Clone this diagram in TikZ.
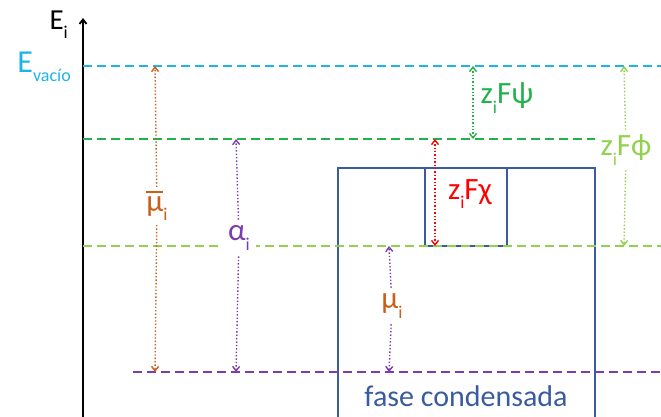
\documentclass[tikz,border=0pt]{standalone}
\usepackage{fontspec}
\setmainfont{Carlito}
\usetikzlibrary{arrows.meta}

\definecolor{cyanvac}{HTML}{1FB4E8}
\definecolor{greenpsi}{HTML}{22B24C}
\definecolor{greenphi}{HTML}{92D050}
\definecolor{purplea}{HTML}{7A3CB0}
\definecolor{orangemu}{HTML}{C8601A}
\definecolor{bluefase}{HTML}{3A5BA0}

\newcommand{\sbi}[1]{\raisebox{-0.3em}{\fontsize{18}{18}\selectfont #1}}
\newcommand{\barmu}{\makebox[0pt][l]{\raisebox{0.6em}{\rule{0.55em}{0.06em}}}μ}

\begin{document}
\begin{tikzpicture}[
  x=1pt,y=-1pt,
  font=\fontsize{31}{34}\selectfont,
  >={Straight Barb[length=4.5pt,width=7pt]},
  level/.style={line width=2.6pt,dash pattern=on 9pt off 5pt},
  gap/.style={line width=1.4pt,dotted},
  tag/.style={inner sep=2pt}
]
\useasboundingbox (0,0) rectangle (661,417);

% axis
\coordinate (ax-bot) at (83,420);
\coordinate (ax-top) at (83,18);
\draw[line width=1.8pt,->] (ax-bot) -- (ax-top);
\node[tag,anchor=east,font=\fontsize{29}{30}\selectfont] (ei) at (70,25) {E\sbi{i}};
\node[tag,anchor=east,text=cyanvac,font=\fontsize{32}{34}\selectfont] (evac) at (73,67) {E\sbi{vacío}};

% condensed phase
\draw[bluefase,line width=1.8pt] (338,420) -- (338,168) -- (595,168) -- (595,420);
\draw[bluefase,line width=1.8pt] (425,168) -- (425,246) -- (507,246) -- (507,168);
\node[text=bluefase,font=\fontsize{30}{32}\selectfont] (fase) at (466,396) {fase condensada};

% levels
\coordinate (vac-l) at (83,66);   \coordinate (vac-r) at (661,66);
\coordinate (psi-l) at (83,139);  \coordinate (psi-r) at (595,139);
\coordinate (phi-l) at (83,246);  \coordinate (phi-r) at (661,246);
\coordinate (mu-l) at (133,372);  \coordinate (mu-r) at (661,372);
\draw[level,cyanvac] (vac-l) -- (vac-r);
\draw[level,greenpsi] (psi-l) -- (psi-r);
\draw[level,greenphi] (phi-l) -- (phi-r);
\draw[level,purplea] (mu-l) -- (mu-r);

% electrochemical potential
\coordinate (mb-t) at (155,66);  \coordinate (mb-b) at (155,372);
\node[tag,text=orangemu,fill=white,inner sep=4pt] (mb) at (157,206) {\barmu\sbi{i}};
\draw[gap,orangemu,->] (mb) -- (mb-t);
\draw[gap,orangemu,->] (mb) -- (mb-b);

% real potential
\coordinate (al-t) at (236,139);  \coordinate (al-b) at (236,372);
\node[tag,text=purplea,fill=white,inner sep=6pt] (al) at (239,238) {α\sbi{i}};
\draw[gap,purplea,->] (al) -- (al-t);
\draw[gap,purplea,->] (al) -- (al-b);

% chemical potential
\coordinate (mu-t) at (389,246);  \coordinate (mu-b) at (389,372);
\node[tag,text=orangemu,inner sep=6pt] (mu) at (392,306) {μ\sbi{i}};
\draw[gap,purplea,->] (mu) -- (mu-t);
\draw[gap,purplea,->] (mu) -- (mu-b);

% outer potential
\coordinate (ps-t) at (473,66);  \coordinate (ps-b) at (473,139);
\draw[gap,greenpsi,<->] (ps-t) -- (ps-b);
\node[tag,text=greenpsi] (ps) at (507,98) {z\sbi{i}Fψ};

% surface potential
\coordinate (ch-t) at (435,139);  \coordinate (ch-b) at (435,246);
\draw[gap,red,<->] (ch-t) -- (ch-b);
\node[tag,text=red] (ch) at (470,194) {z\sbi{i}Fχ};

% inner potential
\coordinate (ph-t) at (624,66);  \coordinate (ph-b) at (624,246);
\node[tag,text=greenphi,inner sep=5pt] (ph) at (626,150) {z\sbi{i}Fϕ};
\draw[gap,greenphi,->] (ph) -- (ph-t);
\draw[gap,greenphi,->] (ph) -- (ph-b);
\end{tikzpicture}
\end{document}
